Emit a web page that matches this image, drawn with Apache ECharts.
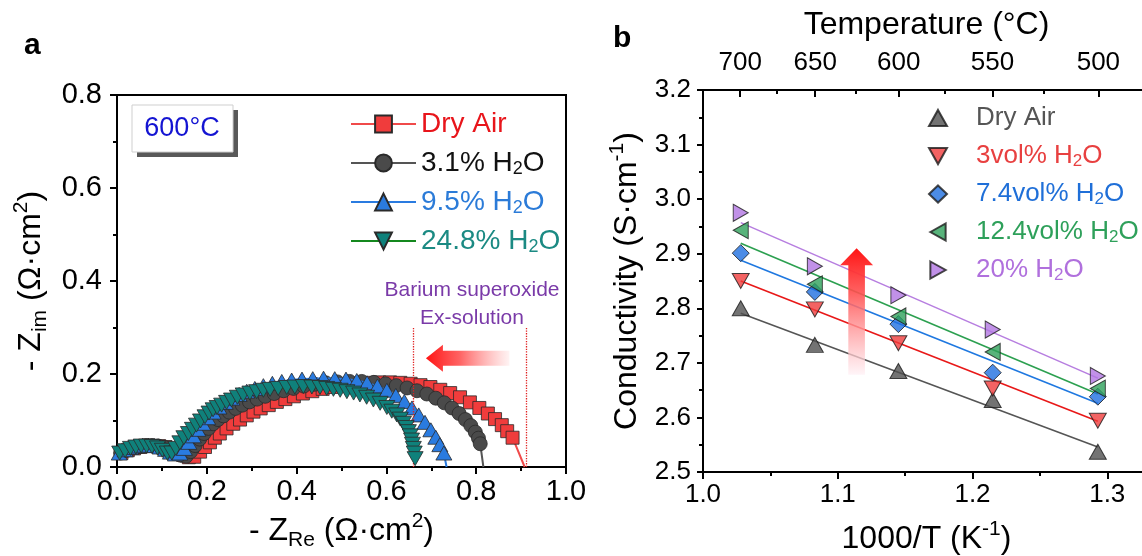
<!DOCTYPE html>
<html><head><meta charset="utf-8">
<script src="https://cdn.jsdelivr.net/npm/echarts@6/dist/echarts.min.js"></script>
<style>html,body{margin:0;padding:0;background:#fff}#c{width:1142px;height:556px}</style>
</head><body><div id="c"></div>
<script>
// ---------- Panel a: impedance spectra at 600 °C ----------
const dryAirRe = [0.010,0.024,0.038,0.052,0.066,0.080,0.094,0.108,0.121,0.134,0.147,0.160,0.172,0.185,0.196,0.207,0.218,0.229,0.244,0.259,0.274,0.289,0.304,0.320,0.338,0.356,0.375,0.394,0.414,0.435,0.458,0.482,0.507,0.532,0.558,0.584,0.608,0.631,0.654,0.676,0.698,0.720,0.742,0.764,0.786,0.807,0.826,0.842,0.857,0.869,0.881];
const dryAirIm = [0.030,0.036,0.040,0.043,0.045,0.046,0.045,0.043,0.039,0.033,0.026,0.021,0.022,0.033,0.043,0.053,0.063,0.072,0.083,0.093,0.102,0.111,0.119,0.126,0.133,0.140,0.146,0.152,0.158,0.163,0.168,0.172,0.176,0.179,0.181,0.182,0.182,0.181,0.179,0.176,0.172,0.166,0.159,0.150,0.139,0.127,0.115,0.103,0.090,0.077,0.063];
const dryAirIntercept = 0.908;

const h31Re = [0.008,0.022,0.036,0.050,0.064,0.078,0.092,0.106,0.119,0.131,0.143,0.154,0.164,0.174,0.184,0.194,0.204,0.214,0.225,0.237,0.250,0.264,0.279,0.295,0.312,0.330,0.350,0.371,0.393,0.416,0.440,0.465,0.491,0.518,0.545,0.572,0.598,0.622,0.646,0.668,0.690,0.710,0.729,0.746,0.762,0.776,0.788,0.798,0.805,0.809];
const h31Im = [0.030,0.036,0.041,0.044,0.046,0.046,0.045,0.042,0.037,0.031,0.025,0.023,0.033,0.046,0.060,0.072,0.083,0.093,0.102,0.110,0.118,0.126,0.133,0.140,0.146,0.152,0.158,0.164,0.169,0.174,0.178,0.181,0.183,0.184,0.184,0.182,0.179,0.175,0.170,0.164,0.157,0.148,0.138,0.127,0.115,0.102,0.089,0.075,0.062,0.050];
const h31Intercept = 0.816;

const h95Re = [0.005,0.018,0.031,0.044,0.057,0.070,0.083,0.096,0.108,0.119,0.130,0.140,0.150,0.160,0.170,0.180,0.191,0.202,0.214,0.227,0.241,0.256,0.272,0.289,0.307,0.326,0.346,0.367,0.389,0.412,0.436,0.460,0.485,0.510,0.534,0.557,0.580,0.601,0.621,0.640,0.657,0.672,0.686,0.699,0.710,0.719,0.728];
const h95Im = [0.030,0.037,0.042,0.045,0.047,0.047,0.046,0.043,0.038,0.032,0.028,0.030,0.040,0.053,0.067,0.081,0.094,0.106,0.118,0.129,0.139,0.148,0.156,0.163,0.169,0.175,0.180,0.184,0.187,0.189,0.190,0.191,0.190,0.189,0.186,0.181,0.174,0.165,0.154,0.141,0.127,0.112,0.096,0.080,0.064,0.048,0.030];
const h95Intercept = 0.734;

const h248Re = [0.006,0.018,0.030,0.042,0.054,0.066,0.078,0.090,0.101,0.112,0.122,0.131,0.140,0.149,0.159,0.168,0.177,0.186,0.196,0.205,0.214,0.223,0.233,0.244,0.255,0.268,0.281,0.296,0.311,0.326,0.341,0.359,0.378,0.396,0.415,0.434,0.452,0.467,0.482,0.497,0.512,0.527,0.541,0.556,0.571,0.586,0.601,0.612,0.623,0.631,0.638,0.644,0.649,0.653,0.656,0.658,0.660,0.662,0.664];
const h248Im = [0.030,0.035,0.040,0.043,0.045,0.045,0.044,0.041,0.036,0.030,0.030,0.040,0.052,0.063,0.072,0.081,0.090,0.099,0.108,0.116,0.123,0.128,0.133,0.139,0.144,0.150,0.155,0.159,0.162,0.165,0.167,0.169,0.171,0.172,0.173,0.172,0.171,0.169,0.167,0.165,0.162,0.159,0.155,0.150,0.144,0.137,0.128,0.120,0.112,0.103,0.094,0.085,0.076,0.067,0.058,0.049,0.040,0.030,0.018];

const seriesANames = ['Dry Air', '3.1% H2O', '9.5% H2O', '24.8% H2O'];
const seriesALabels = ['Dry Air', '3.1% H{sub|2}O', '9.5% H{sub|2}O', '24.8% H{sub|2}O'];
const exsolutionBounds = [0.66, 0.911];

// ---------- Panel b: conductivity vs 1000/T ----------
const invT = [1.028, 1.083, 1.145, 1.215, 1.293];
const tempTicks = [700, 650, 600, 550, 500];
const tempMinorTicks = [675, 625, 575, 525];
const condDry  = [2.800, 2.733, 2.685, 2.632, 2.537];
const cond3    = [2.850, 2.798, 2.736, 2.653, 2.594];
const cond74   = [2.901, 2.830, 2.771, 2.682, 2.638];
const cond124  = [2.943, 2.844, 2.785, 2.720, 2.653];
const cond20   = [2.975, 2.877, 2.824, 2.761, 2.676];
const fitStart = [2.791, 2.850, 2.888, 2.919, 2.957];
const fitEnd   = [2.546, 2.593, 2.626, 2.643, 2.672];
const seriesBNames = ['Dry Air ', '3vol% H2O', '7.4vol% H2O', '12.4vol% H2O', '20% H2O'];
const seriesBLabels = ['Dry Air', '3vol% H{sub|2}O', '7.4vol% H{sub|2}O', '12.4vol% H{sub|2}O', '20% H{sub|2}O'];

// ---------- styling ----------
const FONT = '"Liberation Sans", Arial, sans-serif';
function rich(size) {
  const s = Math.round(size * 0.66), lh = Math.round(size * 0.7);
  return {
    sub: { fontSize: s, lineHeight: lh, verticalAlign: 'bottom', fontFamily: FONT },
    sup: { fontSize: s, lineHeight: lh, verticalAlign: 'top', fontFamily: FONT },
    gap: { width: 24 }
  };
}
function nameStyle(size, extra) {
  return Object.assign({ fontSize: size, lineHeight: Math.round(size * 1.25), color: '#000', fontFamily: FONT, rich: rich(size) }, extra || {});
}
const lineAx = { onZero: false, lineStyle: { color: '#000', width: 2 } };
const tickOut = (len) => ({ show: true, inside: false, length: len, lineStyle: { color: '#000', width: 2 } });
const tickIn = (len) => ({ show: true, inside: true, length: len, lineStyle: { color: '#000', width: 2 } });

const zip = (xs, ys) => xs.map((x, i) => [x, ys[i]]);
const withIntercept = (xs, ys, x0) => zip(xs, ys).concat(x0 == null ? [] : [{ value: [x0, 0], symbol: 'none' }]);

const colA = {
  fill: ['#f03c3c', '#4a4a4a', '#2a7be0', '#0f817b'],
  line: ['#f04a4a', '#555555', '#2a7be0', '#14881e'],
  text: ['#e8151b', '#111111', '#2b7bd8', '#1b8a83']
};
const colB = {
  fill: ['#505050', '#f03c3c', '#1f6fe0', '#2ea05a', '#b276e2'],
  line: ['#555555', '#e81818', '#1f78e0', '#2ca050', '#b77ee0'],
  text: ['#555555', '#e84040', '#1f6fd8', '#2ea05a', '#b070dd']
};

const aData = [
  withIntercept(dryAirRe, dryAirIm, dryAirIntercept),
  withIntercept(h31Re, h31Im, h31Intercept),
  withIntercept(h95Re, h95Im, h95Intercept),
  withIntercept(h248Re, h248Im, null)
];
const aSym = ['rect', 'circle', 'triangle', 'triangle'];
const aSize = [13, 14, [16, 14], [16, 14]];
const aRot = [0, 0, 0, 180];

// marker shapes for panel b (up, down, diamond, left, right)
const TRI_UP = 'path://M1,0 L2,1.8 L0,1.8 Z';
const TRI_DOWN = 'path://M0,0 L2,0 L1,1.8 Z';
const TRI_LEFT = 'path://M0,1 L1.8,0 L1.8,2 Z';
const TRI_RIGHT = 'path://M0,0 L1.8,1 L0,2 Z';
const bVals = [condDry, cond3, cond74, cond124, cond20];
const bSym = [TRI_UP, TRI_DOWN, 'diamond', TRI_LEFT, TRI_RIGHT];
const bSize = [[17, 15], [17, 15], [17, 17], [15, 17], [15, 17]];

const series = [];
aData.forEach((d, i) => {
  series.push({
    name: seriesANames[i], type: 'line', xAxisIndex: 0, yAxisIndex: 0, data: d,
    symbol: aSym[i], symbolSize: aSize[i], symbolRotate: aRot[i], showAllSymbol: true,
    itemStyle: { color: colA.fill[i], borderColor: '#2a2a2a', borderWidth: 0.8 },
    lineStyle: { color: colA.line[i], width: 2 },
    z: 2 + i, animation: false, clip: true,
    markLine: i === 0 ? {
      silent: true, symbol: ['none', 'none'], label: { show: false },
      lineStyle: { type: 'dotted', color: '#e02020', width: 1.3 },
      data: exsolutionBounds.map(x => [{ coord: [x, 0] }, { coord: [x, 0.30] }])
    } : undefined
  });
});
bVals.forEach((v, i) => {
  series.push({
    name: 'fit' + i, type: 'line', xAxisIndex: 1, yAxisIndex: 1,
    data: [[invT[0], fitStart[i]], [invT[invT.length - 1], fitEnd[i]]],
    symbol: 'none', lineStyle: { color: colB.line[i], width: 1.6 }, z: 2, animation: false
  });
});
bVals.forEach((v, i) => {
  series.push({
    name: seriesBNames[i], type: 'scatter', xAxisIndex: 1, yAxisIndex: 1,
    data: zip(invT, v), symbol: bSym[i], symbolSize: bSize[i],
    itemStyle: { color: colB.fill[i], borderColor: '#1a1a1a', borderWidth: 1 }, z: 5, animation: false
  });
});

const toTempX = t => 1000 / (t + 273.15);

const option = {
  animation: false,
  backgroundColor: '#fff',
  textStyle: { fontFamily: FONT },
  grid: [
    { left: 117, top: 95, width: 449, height: 372, show: true, borderColor: '#000', borderWidth: 2,
      backgroundColor: 'transparent', outerBoundsMode: 'none', containLabel: false },
    { left: 703, top: 90, width: 539, height: 382, show: true, borderColor: '#000', borderWidth: 2,
      backgroundColor: 'transparent', outerBoundsMode: 'none', containLabel: false }
  ],
  xAxis: [
    { gridIndex: 0, type: 'value', min: 0, max: 1, interval: 0.2,
      axisLine: lineAx, axisTick: tickOut(7),
      minorTick: { show: true, splitNumber: 2, length: 4, lineStyle: { color: '#000', width: 2 } },
      splitLine: { show: false }, minorSplitLine: { show: false },
      axisLabel: { fontSize: 29, color: '#000', fontFamily: FONT, margin: 10, formatter: v => v.toFixed(1) },
      name: '- Z{sub|Re} (Ω·cm{sup|2})', nameLocation: 'middle', nameGap: 40, nameTextStyle: nameStyle(32) },
    { gridIndex: 1, type: 'value', min: 1.0, max: 1.4, interval: 0.1,
      axisLine: lineAx, axisTick: tickOut(7),
      minorTick: { show: true, splitNumber: 2, length: 4, lineStyle: { color: '#000', width: 2 } },
      splitLine: { show: false },
      axisLabel: { fontSize: 26, color: '#000', fontFamily: FONT, margin: 10, showMaxLabel: false, formatter: v => v.toFixed(1) },
      name: '1000/T (K{sup|-1})', nameLocation: 'middle', nameGap: 47,
      nameTextStyle: nameStyle(32, { padding: [0, 92, 0, 0] }) },
    { gridIndex: 1, type: 'value', position: 'top', min: 1.0, max: 1.4,
      axisLine: lineAx,
      axisTick: Object.assign(tickIn(7), { customValues: tempTicks.map(toTempX) }),
      axisLabel: { fontSize: 26, color: '#000', fontFamily: FONT, margin: 14,
        customValues: tempTicks.map(toTempX), formatter: v => String(Math.round(1000 / v - 273.15)) },
      splitLine: { show: false },
      name: 'Temperature (°C)', nameLocation: 'middle', nameGap: 45,
      nameTextStyle: nameStyle(32, { padding: [0, 92, 0, 0] }) },
    { gridIndex: 1, type: 'value', position: 'top', min: 1.0, max: 1.4,
      axisLine: { show: false, onZero: false },
      axisTick: Object.assign(tickIn(4), { customValues: tempMinorTicks.map(toTempX) }),
      axisLabel: { show: false }, splitLine: { show: false } }
  ],
  yAxis: [
    { gridIndex: 0, type: 'value', min: 0, max: 0.8, interval: 0.2,
      axisLine: lineAx, axisTick: tickOut(7),
      minorTick: { show: true, splitNumber: 2, length: 4, lineStyle: { color: '#000', width: 2 } },
      splitLine: { show: false },
      axisLabel: { fontSize: 29, color: '#000', fontFamily: FONT, margin: 15, formatter: v => v.toFixed(1) },
      name: '- Z{sub|im} (Ω·cm{sup|2})', nameLocation: 'middle', nameGap: 66, nameRotate: 90, nameTextStyle: nameStyle(32) },
    { gridIndex: 1, type: 'value', min: 2.5, max: 3.2, interval: 0.1,
      axisLine: lineAx, axisTick: tickOut(6),
      minorTick: { show: true, splitNumber: 2, length: 4, lineStyle: { color: '#000', width: 2 } },
      splitLine: { show: false },
      axisLabel: { fontSize: 26, color: '#000', fontFamily: FONT, margin: 12, formatter: v => v.toFixed(1) },
      name: 'Conductivity (S·cm{sup|-1})', nameLocation: 'middle', nameGap: 56, nameRotate: 90, nameTextStyle: nameStyle(32) }
  ],
  legend: [
    { orient: 'vertical', left: 345, top: 104, itemWidth: 65, itemHeight: 21, itemGap: 9,
      data: seriesANames.map((n, i) => ({ name: n, textStyle: { color: colA.text[i] } })),
      formatter: n => seriesALabels[seriesANames.indexOf(n)],
      textStyle: { fontSize: 28, lineHeight: 30, fontFamily: FONT, rich: rich(28) }, selectedMode: false },
    { orient: 'vertical', left: 923, top: 99, itemWidth: 18, itemHeight: 17, itemGap: 10,
      data: seriesBNames.map((n, i) => ({ name: n, icon: bSym[i], textStyle: { color: colB.text[i] } })),
      formatter: n => '{gap| }' + seriesBLabels[seriesBNames.indexOf(n)],
      textStyle: { fontSize: 26, lineHeight: 28, fontFamily: FONT, rich: rich(26) }, selectedMode: false }
  ],
  series: series
};

const chart = echarts.init(document.getElementById('c'));
chart.setOption(option);

// ---------- annotations ----------
const pa = (x, y) => chart.convertToPixel({ gridIndex: 0 }, [x, y]);
const pb = (x, y) => chart.convertToPixel({ gridIndex: 1 }, [x, y]);
const arrowA = { tip: [0.688, 0.234], tail: [0.874, 0.234] };
const arrowB = { x: 1.114, tip: 2.91, tail: 2.678 };

const aTip = pa(...arrowA.tip), aTail = pa(...arrowA.tail);
const ay = aTip[1], hA = 17;
const polyA = [[aTip[0], ay], [aTip[0] + hA, ay - 13.5], [aTip[0] + hA, ay - 7.5], [aTail[0], ay - 7.5],
  [aTail[0], ay + 7.5], [aTip[0] + hA, ay + 7.5], [aTip[0] + hA, ay + 13.5]];
const bTip = pb(arrowB.x, arrowB.tip), bTail = pb(arrowB.x, arrowB.tail);
const bx = bTip[0], hB = 17;
const polyB = [[bx, bTip[1]], [bx + 16.5, bTip[1] + hB], [bx + 8.3, bTip[1] + hB], [bx + 8.3, bTail[1]],
  [bx - 8.3, bTail[1]], [bx - 8.3, bTip[1] + hB], [bx - 16.5, bTip[1] + hB]];

const txt = (x, y, text, size, fill, extra) => ({
  type: 'text', x, y, z: 100,
  style: Object.assign({ text, font: size + 'px ' + FONT, fill, align: 'center', verticalAlign: 'middle',
    textAlign: 'center', textVerticalAlign: 'middle' }, extra || {})
});

chart.setOption({
  graphic: [
    { type: 'text', left: 24, top: 31, z: 100, style: { text: 'a', font: 'bold 30px ' + FONT, fill: '#000' } },
    { type: 'text', left: 613, top: 24, z: 100, style: { text: 'b', font: 'bold 30px ' + FONT, fill: '#000' } },
    { type: 'rect', z: 90, shape: { x: 137, y: 110, width: 101, height: 47 }, style: { fill: '#595959' } },
    { type: 'rect', z: 91, shape: { x: 132, y: 105, width: 101, height: 47 }, style: { fill: '#fff', stroke: '#cfcfcf', lineWidth: 1 } },
    txt(182, 129, '600°C', 27, '#1414d2'),
    txt(472, 290, 'Barium superoxide', 21, '#7a3aa8'),
    txt(472, 318, 'Ex-solution', 21, '#7a3aa8'),
    { type: 'polygon', z: 50, shape: { points: polyA },
      style: { fill: { type: 'linear', x: 0, y: 0, x2: 1, y2: 0,
        colorStops: [{ offset: 0, color: 'rgba(255,20,20,1)' }, { offset: 0.4, color: 'rgba(255,70,70,0.85)' }, { offset: 1, color: 'rgba(255,235,235,0.6)' }] } } },
    { type: 'polygon', z: 50, shape: { points: polyB },
      style: { fill: { type: 'linear', x: 0, y: 0, x2: 0, y2: 1,
        colorStops: [{ offset: 0, color: 'rgba(255,20,20,1)' }, { offset: 0.35, color: 'rgba(255,80,80,0.9)' }, { offset: 1, color: 'rgba(255,240,245,0.7)' }] } } }
  ]
});
</script>
</body></html>
